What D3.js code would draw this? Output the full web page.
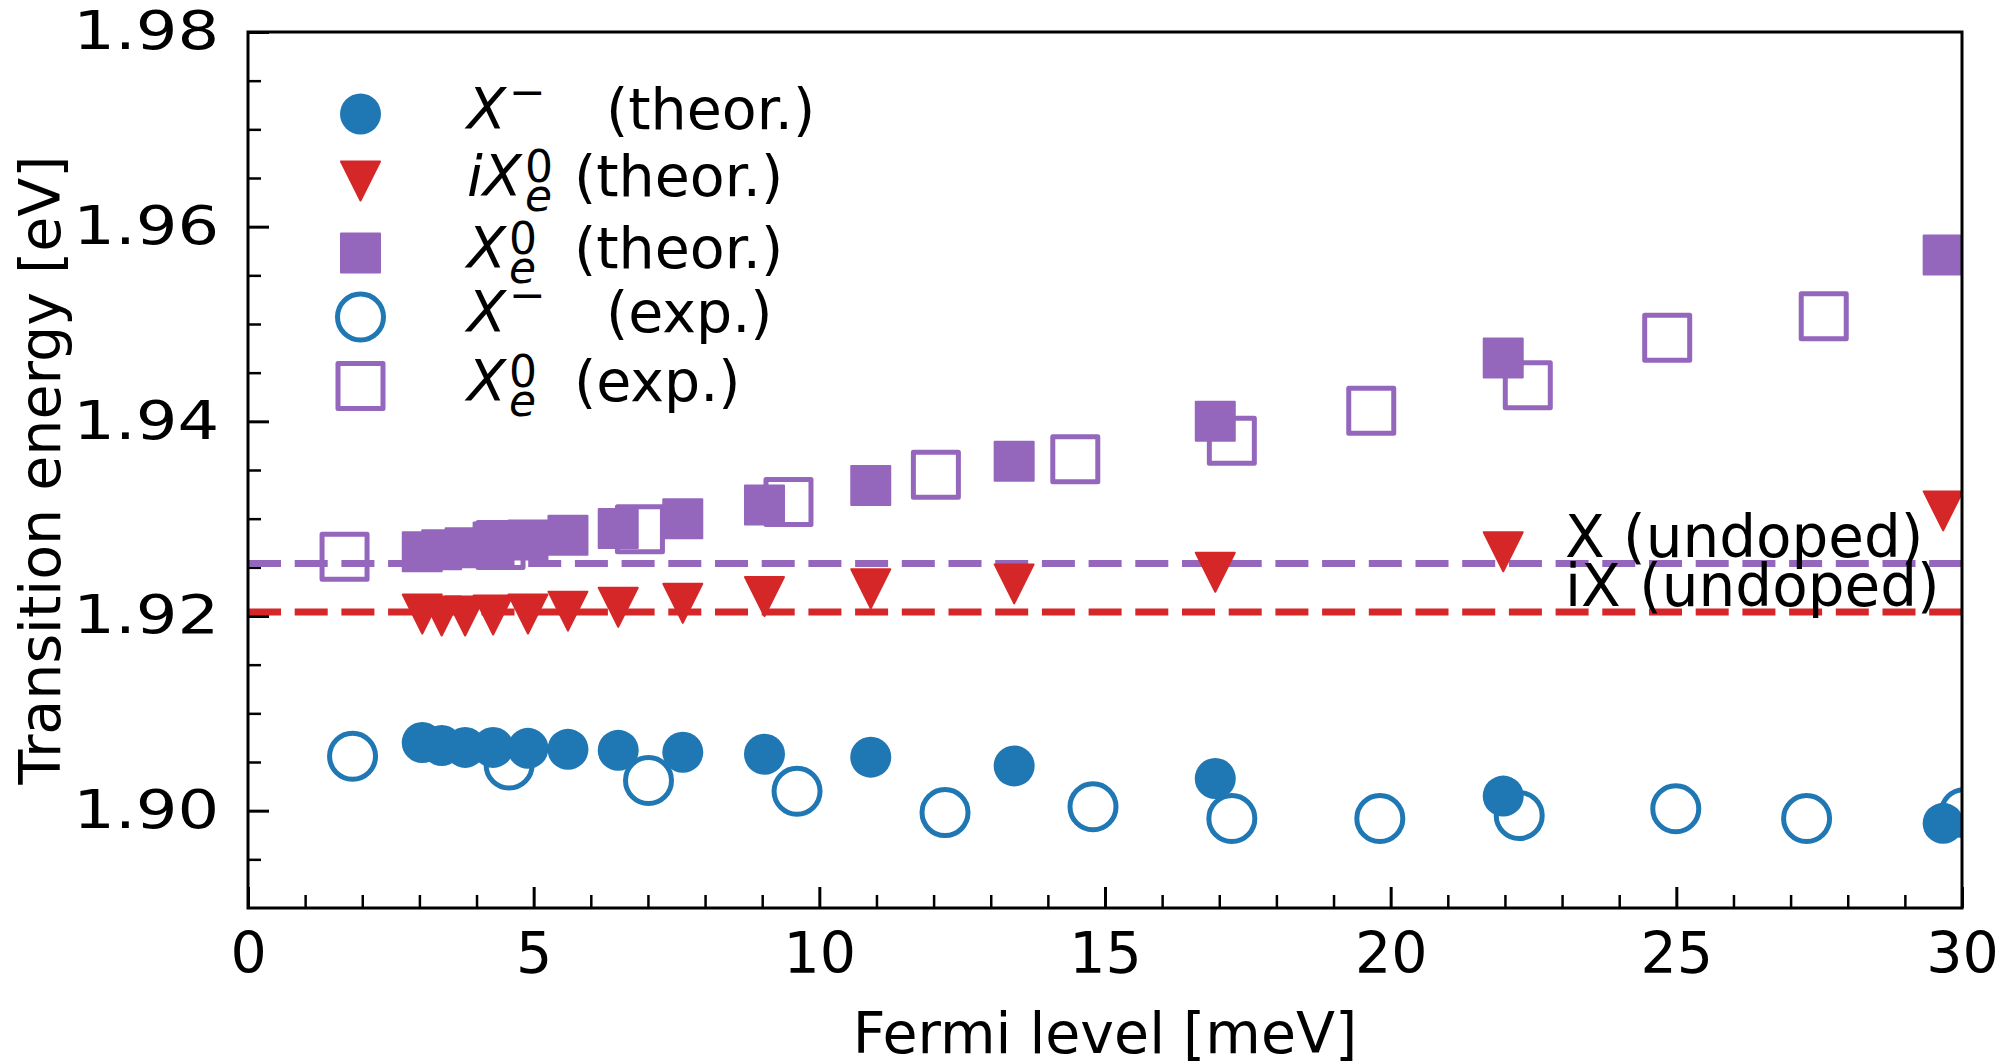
<!DOCTYPE html>
<html>
<head>
<meta charset="utf-8">
<script src="https://cdn.jsdelivr.net/npm/d3@7"></script>
<style>
  body { margin: 0; background: #fff; }
  svg { display: block; font-family: "DejaVu Sans", sans-serif; }
</style>
</head>
<body>
<script>
// theoretical curves, all on the same Fermi levels (meV)
const fermiTheor = [3.05, 3.39, 3.80, 4.29, 4.90, 5.60, 6.48, 7.61, 9.04, 10.90, 13.41, 16.93, 21.97, 29.67];
const xMinusTheor = [1.9070, 1.9067, 1.9065, 1.9065, 1.9064, 1.9063, 1.9062, 1.9060, 1.9058, 1.9055, 1.9046, 1.9033, 1.9015, 1.8987];
const iXTheor = [1.9202, 1.9200, 1.9200, 1.9201, 1.9202, 1.9205, 1.9209, 1.9213, 1.9220, 1.9228, 1.9233, 1.9245, 1.9266, 1.9308];
const xe0Theor = [1.9266, 1.9268, 1.9270, 1.9276, 1.9278, 1.9283, 1.9290, 1.9300, 1.9314, 1.9334, 1.9359, 1.9400, 1.9465, 1.9571];

// experiment
const fermiExpXMinus = [1.83, 4.57, 7.01, 9.61, 12.20, 14.79, 17.22, 19.81, 22.25, 24.99, 27.28, 30.04];
const xMinusExp = [1.9056, 1.9047, 1.9031, 1.9020, 1.8998, 1.9004, 1.8992, 1.8992, 1.8995, 1.9002, 1.8992, 1.8998];
const fermiExpXe0 = [1.69, 4.42, 6.86, 9.46, 12.04, 14.48, 17.22, 19.66, 22.40, 24.84, 27.58];
const xe0Exp = [1.9261, 1.9273, 1.9289, 1.9317, 1.9345, 1.9361, 1.9380, 1.9411, 1.9437, 1.9486, 1.9508];

// undoped reference levels
const xUndoped = 1.9254;
const iXUndoped = 1.9204;
const undopedLabelX = 23.05;

const xTicks = [0, 5, 10, 15, 20, 25, 30];
const yTicks = [1.90, 1.92, 1.94, 1.96, 1.98];

const blue = '#1f77b4', red = '#d62728', purple = '#9467bd';

const svgW = 2012, svgH = 1061;
const margin = {left: 248, right: 50, top: 32, bottom: 153};
const w = svgW - margin.left - margin.right;
const h = svgH - margin.top - margin.bottom;
const fs = 57;

const svg = d3.select('body').append('svg')
    .attr('width', svgW)
    .attr('height', svgH);

const g = svg.append('g')
    .attr('transform', `translate(${margin.left},${margin.top})`);

const x = d3.scaleLinear().domain([0, 30]).range([0, w]);
const y = d3.scaleLinear().domain([1.89, 1.98]).range([h, 0]);

svg.append('defs').append('clipPath').attr('id', 'plot-clip')
    .append('rect').attr('width', w).attr('height', h);

// axes: ticks point inwards
function styleAxis(sel, width) {
    sel.select('.domain').remove();
    sel.selectAll('line').attr('stroke', '#000').attr('stroke-width', width);
    sel.selectAll('text').attr('font-size', fs).attr('font-family', '"DejaVu Sans"').attr('fill', '#000');
}

g.append('g').attr('transform', `translate(0,${h})`)
    .call(d3.axisBottom(x).tickValues(d3.range(0, 31).filter(v => v % 5)).tickSize(-13).tickFormat(''))
    .call(styleAxis, 2.5);
g.append('g').attr('transform', `translate(0,${h})`)
    .call(d3.axisBottom(x).tickValues(xTicks).tickSize(-21).tickPadding(25).tickFormat(d3.format('d')))
    .call(styleAxis, 3);

g.append('g')
    .call(d3.axisLeft(y).tickValues(d3.range(379, 396).filter(k => k % 4).map(k => k / 200)).tickSize(-13).tickFormat(''))
    .call(styleAxis, 2.5);
g.append('g')
    .call(d3.axisLeft(y).tickValues(yTicks).tickSize(-21).tickPadding(25).tickFormat(d3.format('.2f')))
    .call(styleAxis, 3)
    .call(sel => sel.selectAll('text').attr('transform', 'scale(1.15,0.93)')); // y labels are drawn wider in the original

// undoped dashed lines
const plot = g.append('g').attr('clip-path', 'url(#plot-clip)');

[[xUndoped, purple], [iXUndoped, red]].forEach(([v, c]) => {
    plot.append('line')
        .attr('x1', x(0)).attr('x2', x(30))
        .attr('y1', y(v)).attr('y2', y(v))
        .attr('stroke', c).attr('stroke-width', 7)
        .attr('stroke-dasharray', '33 13.7');
});

// marker helpers
function openCircle(sel, c) {
    sel.append('circle').attr('r', 23).attr('fill', 'none').attr('stroke', c).attr('stroke-width', 5);
}
function openSquare(sel, c) {
    sel.append('rect').attr('x', -22.5).attr('y', -22.5).attr('width', 45).attr('height', 45)
        .attr('fill', 'none').attr('stroke', c).attr('stroke-width', 5).attr('stroke-linejoin', 'round');
}
function filledCircle(sel, c) {
    sel.append('circle').attr('r', 20.5).attr('fill', c);
}
function filledSquare(sel, c) {
    sel.append('rect').attr('x', -19.5).attr('y', -19.5).attr('width', 39).attr('height', 39)
        .attr('fill', c).attr('stroke', c).attr('stroke-width', 2).attr('stroke-linejoin', 'round');
}
function triangleDown(sel, c) {
    sel.append('path').attr('d', 'M-19.5,-19.5L19.5,-19.5L0,19.5Z')
        .attr('fill', c).attr('stroke', c).attr('stroke-width', 2).attr('stroke-linejoin', 'round');
}

function scatter(xs, ys, marker, c) {
    plot.append('g').selectAll('g')
        .data(xs.map((v, i) => [v, ys[i]]))
        .join('g')
        .attr('transform', d => `translate(${x(d[0])},${y(d[1])})`)
        .each(function () { marker(d3.select(this), c); });
}

scatter(fermiExpXMinus, xMinusExp, openCircle, blue);
scatter(fermiExpXe0, xe0Exp, openSquare, purple);
scatter(fermiTheor, xMinusTheor, filledCircle, blue);
scatter(fermiTheor, iXTheor, triangleDown, red);
scatter(fermiTheor, xe0Theor, filledSquare, purple);

// frame
g.append('rect').attr('width', w).attr('height', h)
    .attr('fill', 'none').attr('stroke', '#000').attr('stroke-width', 3);

// undoped labels
g.append('text').attr('x', x(undopedLabelX)).attr('y', y(xUndoped) - 6)
    .attr('font-size', 58).text('X (undoped)');
g.append('text').attr('x', x(undopedLabelX)).attr('y', y(iXUndoped) - 6)
    .attr('font-size', 58).text('iX (undoped)');

// axis labels
g.append('text').attr('x', w / 2).attr('y', h + 145)
    .attr('text-anchor', 'middle').attr('font-size', fs).text('Fermi level [meV]');
svg.append('text').attr('transform', `translate(60,${margin.top + h / 2}) rotate(-90)`)
    .attr('text-anchor', 'middle').attr('font-size', fs).text('Transition energy [eV]');

// legend
const legendRows = [
    {marker: filledCircle, color: blue, main: 'X', sup: '\u2212', sub: null, note: '(theor.)', noteX: 606},
    {marker: triangleDown, color: red, main: 'iX', sup: '0', sub: 'e', note: '(theor.)', noteX: 574},
    {marker: filledSquare, color: purple, main: 'X', sup: '0', sub: 'e', note: '(theor.)', noteX: 574},
    {marker: openCircle, color: blue, main: 'X', sup: '\u2212', sub: null, note: '(exp.)', noteX: 606},
    {marker: openSquare, color: purple, main: 'X', sup: '0', sub: 'e', note: '(exp.)', noteX: 574}
];
const legendY = [114, 181, 253, 317, 386];

const legend = svg.append('g');
legendRows.forEach((r, i) => {
    const cy = legendY[i];
    const base = cy + 15;
    const m = legend.append('g').attr('transform', `translate(360.5,${cy})`);
    r.marker(m, r.color);
    const t = legend.append('text').attr('x', 467).attr('y', base)
        .attr('font-size', fs).attr('font-style', 'italic').text(r.main);
    const after = 467 + t.node().getComputedTextLength() + 3;
    if (r.sub) {
        legend.append('text').attr('x', after).attr('y', base - 14)
            .attr('font-size', 44).text(r.sup);
        legend.append('text').attr('x', after).attr('y', base + 15)
            .attr('font-size', 44).attr('font-style', 'italic').text(r.sub);
    } else {
        legend.append('text').attr('x', after).attr('y', base - 22)
            .attr('font-size', 44).text(r.sup);
    }
    legend.append('text').attr('x', r.noteX).attr('y', base)
        .attr('font-size', fs).text(r.note);
});
</script>
</body>
</html>
